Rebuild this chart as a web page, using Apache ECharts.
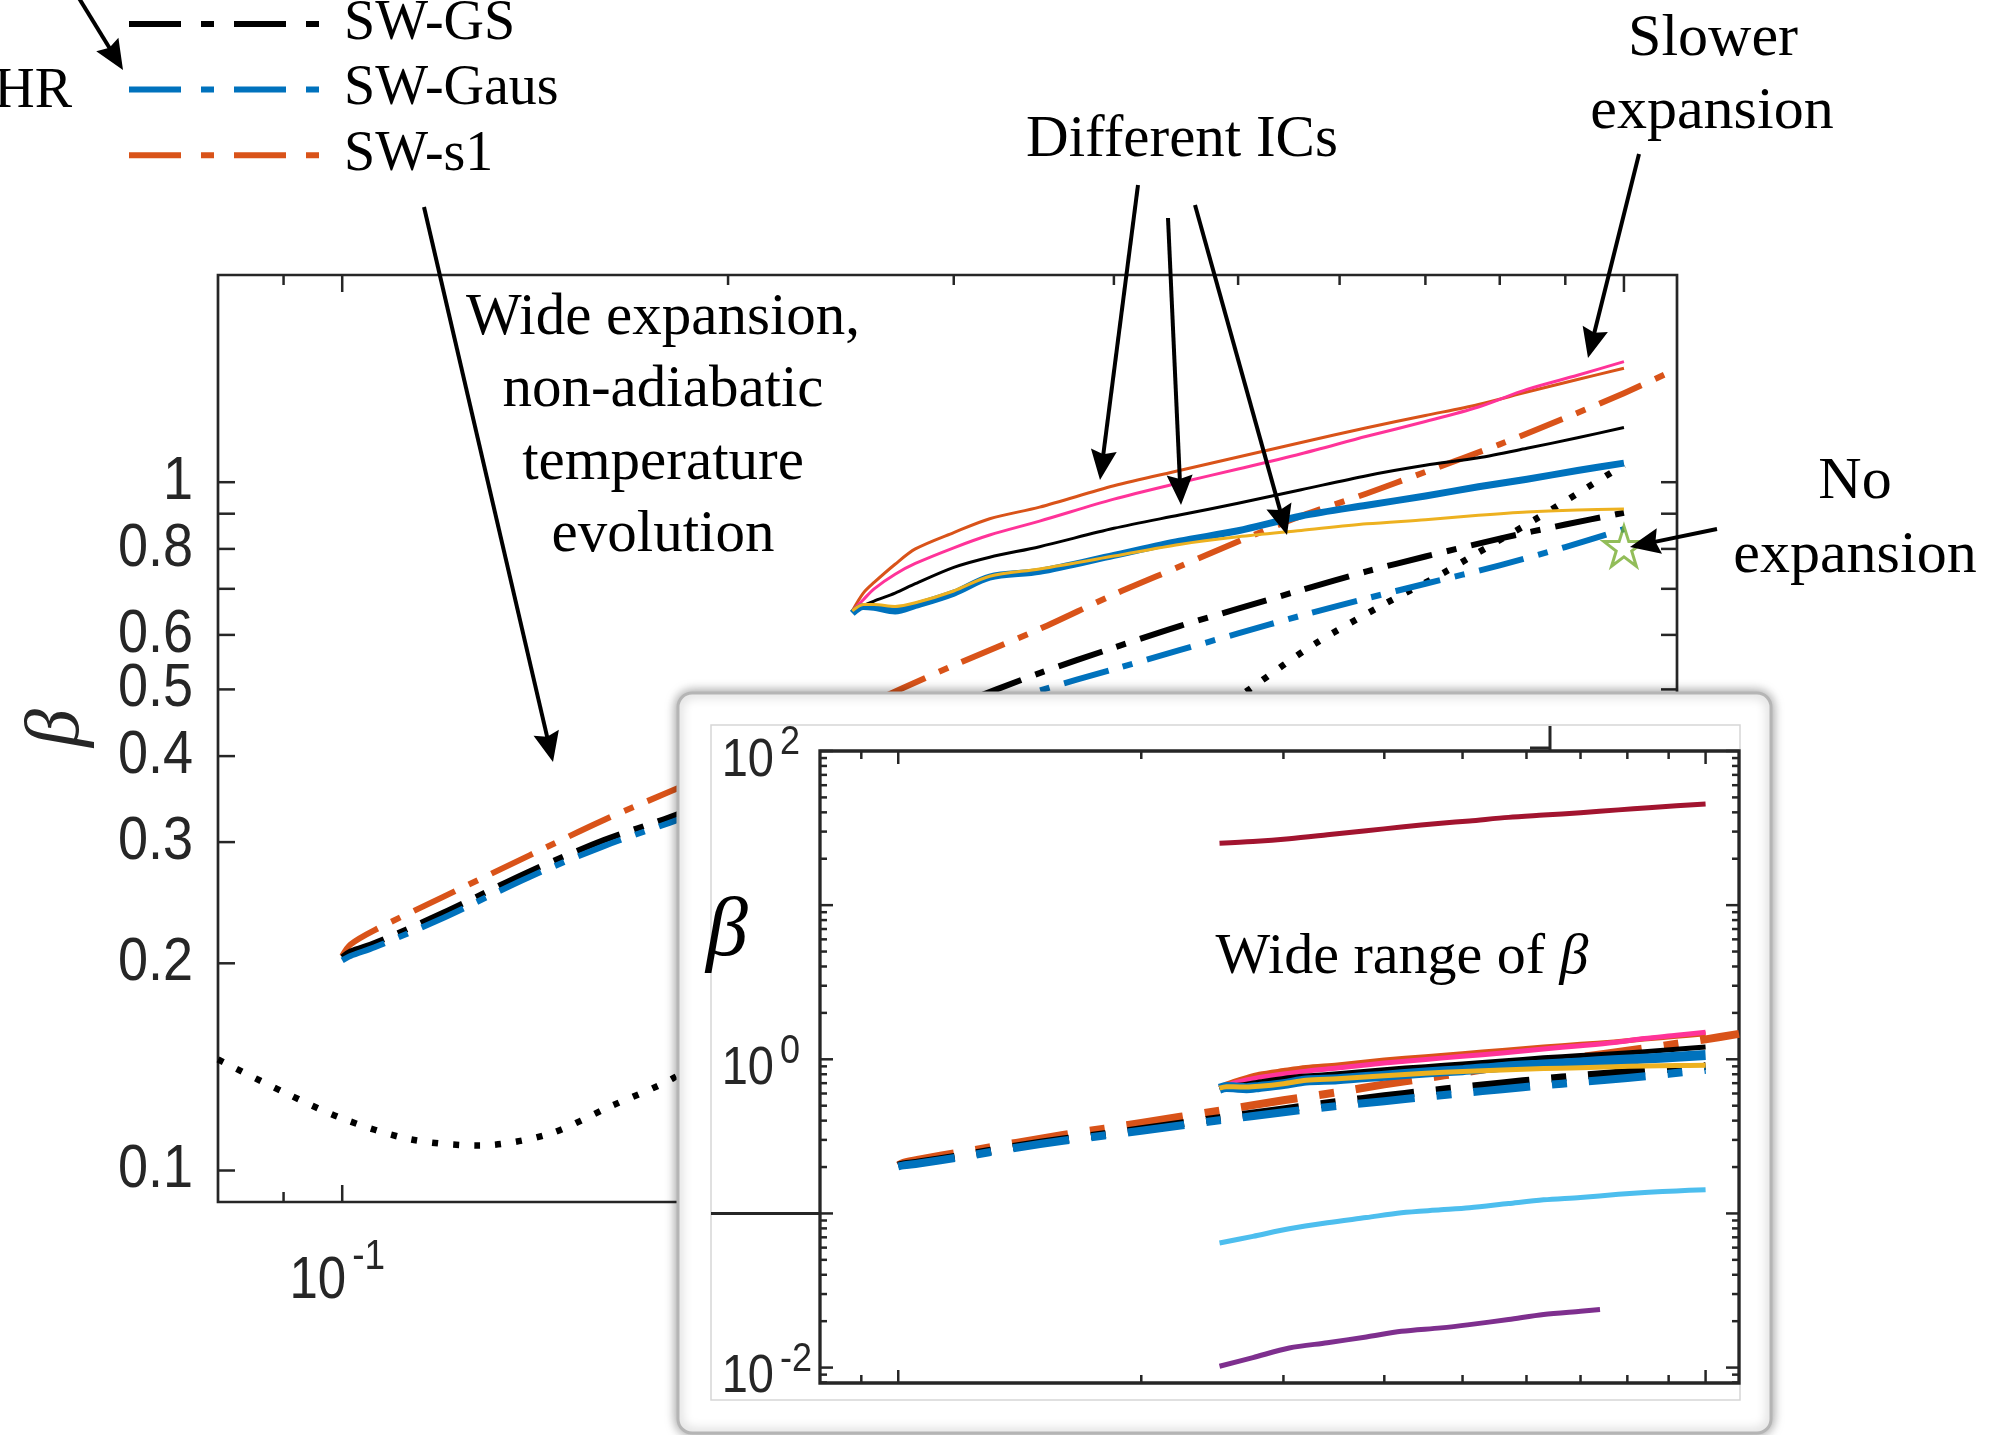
<!DOCTYPE html>
<html>
<head>
<meta charset="utf-8">
<script src="https://cdn.jsdelivr.net/npm/echarts@6/dist/echarts.min.js"></script>
<style>
  html, body { margin: 0; padding: 0; background: #fff; }
  #chart { width: 1995px; height: 1435px; }
</style>
</head>
<body>
<div id="chart"></div>
<script>
// ---------------- data ----------------
// Self-similar wave solutions, beta versus time (log-log)
const xSW    = [0.1, 0.1015, 0.106, 0.12, 0.14, 0.16, 0.18, 0.2, 0.25, 0.3, 0.35, 0.4, 0.45, 0.5, 0.56, 0.63, 0.7, 0.8, 0.9, 1.0, 1.1];
const swS1   = [0.205, 0.213, 0.2235, 0.250, 0.287, 0.323, 0.355, 0.386, 0.465, 0.542, 0.612, 0.687, 0.754, 0.820, 0.893, 0.963, 1.035, 1.135, 1.240, 1.347, 1.461];
const swGS   = [0.204, 0.208, 0.214, 0.237, 0.272, 0.302, 0.326, 0.352, 0.415, 0.473, 0.528, 0.575, 0.618, 0.655, 0.697, 0.742, 0.780, 0.828, 0.868, 0.903, null];
const swGaus = [0.202, 0.205, 0.211, 0.233, 0.267, 0.296, 0.320, 0.344, 0.402, 0.453, 0.498, 0.535, 0.570, 0.603, 0.640, 0.678, 0.712, 0.757, 0.805, 0.855, null];

// HR curve (dotted)
const xHR    = [0.08, 0.09, 0.1, 0.113, 0.128, 0.145, 0.162, 0.181, 0.2, 0.25, 0.3, 0.35, 0.4, 0.45, 0.514, 0.572, 0.65, 0.72, 0.764, 0.85, 0.93, 1.0];
const betaHR = [0.145, 0.130, 0.119, 0.111, 0.1087, 0.113, 0.124, 0.136, 0.154, 0.204, 0.256, 0.31, 0.366, 0.423, 0.505, 0.58, 0.665, 0.735, 0.784, 0.88, 0.975, 1.06];

// Simulations from different initial conditions (solid)
const xIC      = [0.25, 0.255, 0.26, 0.27, 0.28, 0.30, 0.32, 0.35, 0.40, 0.45, 0.50, 0.56, 0.63, 0.70, 0.77, 0.84, 0.92, 1.00];
const icOrange = [0.650, 0.690, 0.715, 0.760, 0.800, 0.845, 0.885, 0.920, 0.988, 1.040, 1.088, 1.142, 1.200, 1.250, 1.297, 1.352, 1.410, 1.464];
const icPink   = [0.650, 0.675, 0.700, 0.735, 0.762, 0.803, 0.838, 0.878, 0.945, 0.998, 1.045, 1.100, 1.166, 1.225, 1.286, 1.364, 1.430, 1.497];
const icBlack  = [0.650, 0.662, 0.672, 0.690, 0.712, 0.752, 0.778, 0.806, 0.857, 0.896, 0.932, 0.975, 1.022, 1.058, 1.085, 1.120, 1.160, 1.201];
const icBlue   = [0.645, 0.660, 0.658, 0.650, 0.662, 0.690, 0.728, 0.742, 0.783, 0.821, 0.850, 0.893, 0.926, 0.955, 0.985, 1.010, 1.040, 1.066];
const icYellow = [0.650, 0.664, 0.664, 0.660, 0.668, 0.695, 0.730, 0.748, 0.781, 0.812, 0.833, 0.851, 0.870, 0.882, 0.895, 0.905, 0.911, 0.914];

// No-expansion case
const noExpansion = [[1.0, 0.807]];

// Extra runs shown only in the wide-range panel
const xWide      = [0.25, 0.275, 0.305, 0.34, 0.38, 0.42, 0.47, 0.51, 0.57, 0.63, 0.7, 0.78, 0.85, 0.92, 1.0];
const betaHigh   = [25.2, 25.9, 27.0, 28.6, 30.4, 32.1, 34.0, 35.2, 37.1, 38.4, 39.8, 41.5, 42.9, 44.1, 45.3];
const betaLow    = [0.0643, 0.071, 0.0795, 0.087, 0.094, 0.101, 0.1055, 0.109, 0.116, 0.1225, 0.127, 0.133, 0.137, 0.140, 0.1426];
const xLowest    = [0.25, 0.275, 0.305, 0.34, 0.38, 0.42, 0.47, 0.51, 0.57, 0.63, 0.7, 0.74];
const betaLowest = [0.0102, 0.0116, 0.0134, 0.0145, 0.0158, 0.0172, 0.0181, 0.019, 0.0205, 0.0221, 0.0232, 0.0238];

// Ticks and tick labels
const mainXTicks      = [0.09, 0.1, 0.2, 0.3, 0.4, 0.5, 0.6, 0.7, 0.8, 0.9, 1.0];
const mainXMajor      = [0.1, 1.0];
const mainXLabelVals  = [0.1, 1.0];
const mainXLabelExp   = ['-1', '0'];
const mainYTicks      = [0.1, 0.2, 0.3, 0.4, 0.5, 0.6, 0.7, 0.8, 0.9, 1.0];
const mainYLabelVals  = [0.1, 0.2, 0.3, 0.4, 0.5, 0.6, 0.8, 1];
const mainYLabels     = ['0.1', '0.2', '0.3', '0.4', '0.5', '0.6', '0.8', '1'];
const insetYLabelVals = [100, 1, 0.01];
const insetYLabelExp  = ['2', '0', '-2'];

// ---------------- styling ----------------
const SERIF = "'Liberation Serif', 'DejaVu Serif', serif";
const SANS = "'Liberation Sans', Arial, Helvetica, sans-serif";
const AX = '#262626';
const C = {
  blue: '#0072BD', orange: '#D95319', yellow: '#EDB120', purple: '#7E2F8E',
  green: '#77AC30', cyan: '#4DBEEE', red: '#A2142F', pink: '#FF3399', black: '#000000'
};
const DASHDOT_MAIN = [46, 15, 10, 15];
const DASHDOT_INSET = [57, 22, 15, 22];
const STAR = 'path://M50,0 L61.8,35.1 L98.9,35.1 L68.9,56.8 L80.3,91.9 L50,70.2 L19.7,91.9 L31.1,56.8 L1.1,35.1 L38.2,35.1 Z';

function pairs(xs, ys) {
  const out = [];
  for (let i = 0; i < xs.length; i++) if (ys[i] != null) out.push([xs[i], ys[i]]);
  return out;
}

function lineSeries(name, data, color, width, type, panel) {
  return {
    name: name, type: 'line', data: data,
    xAxisIndex: panel, yAxisIndex: panel,
    zlevel: panel === 0 ? 0 : 2,
    symbol: 'none', smooth: 0.3, animation: false, silent: true,
    lineStyle: { color: color, width: width, type: type, cap: 'butt', join: 'round' },
    itemStyle: { color: color }
  };
}

function panelSeries(panel) {
  const dd = panel === 0 ? DASHDOT_MAIN : DASHDOT_INSET;
  const wd = panel === 0 ? 6 : 8;
  const wt = panel === 0 ? 3 : 5;
  const wb = panel === 0 ? 7 : 10;
  const s = [];
  if (panel === 0) s.push(lineSeries('HR', pairs(xHR, betaHR), C.black, 6.5, [6, 15], 0));
  s.push(lineSeries('SW-s1', pairs(xSW, swS1), C.orange, wd, dd, panel));
  s.push(lineSeries('SW-GS', pairs(xSW, swGS), C.black, wd, dd, panel));
  s.push(lineSeries('SW-Gaus', pairs(xSW, swGaus), C.blue, wd, dd, panel));
  if (panel === 1) {
    s.push(lineSeries('IC high', pairs(xWide, betaHigh), C.red, wt, 'solid', 1));
    s.push(lineSeries('IC low', pairs(xWide, betaLow), C.cyan, wt, 'solid', 1));
    s.push(lineSeries('IC lowest', pairs(xLowest, betaLowest), C.purple, wt, 'solid', 1));
  }
  s.push(lineSeries('IC 1', pairs(xIC, icOrange), C.orange, wt, 'solid', panel));
  s.push(lineSeries('IC 2', pairs(xIC, icPink), C.pink, wt, 'solid', panel));
  s.push(lineSeries('IC 3', pairs(xIC, icBlack), C.black, wt, 'solid', panel));
  s.push(lineSeries('IC 4', pairs(xIC, icBlue), C.blue, wb, 'solid', panel));
  s.push(lineSeries('IC 5', pairs(xIC, icYellow), C.yellow, wt, 'solid', panel));
  return s;
}

const hiddenAxis = {
  axisLine: { show: false }, axisTick: { show: false },
  axisLabel: { show: false }, splitLine: { show: false }, minorTick: { show: false }
};

const series = panelSeries(0).concat([{
  name: 'No expansion', type: 'scatter', data: noExpansion,
  xAxisIndex: 0, yAxisIndex: 0, zlevel: 0, z: 4, silent: true, animation: false,
  symbol: STAR, symbolSize: [40, 40],
  itemStyle: { color: 'rgba(255,255,255,0)', borderColor: C.green, borderWidth: 3 }
}]).concat(panelSeries(1));

const option = {
  backgroundColor: '#ffffff',
  animation: false,
  grid: [
    { left: 218, top: 275, width: 1459, height: 927, show: true, borderColor: AX, borderWidth: 2.7,
      backgroundColor: '#ffffff', zlevel: 0 },
    { left: 820, top: 751, width: 919, height: 632, show: true, borderColor: AX, borderWidth: 3.3,
      backgroundColor: 'rgba(0,0,0,0)', zlevel: 2, z: 1 }
  ],
  xAxis: [
    Object.assign({ type: 'log', logBase: 10, gridIndex: 0, min: 0.08, max: 1.1, zlevel: 0 }, hiddenAxis),
    Object.assign({ type: 'log', logBase: 10, gridIndex: 1, min: 0.08, max: 1.1, zlevel: 2 }, hiddenAxis)
  ],
  yAxis: [
    Object.assign({ type: 'log', logBase: 10, gridIndex: 0, min: 0.09, max: 2, zlevel: 0 }, hiddenAxis),
    Object.assign({ type: 'log', logBase: 10, gridIndex: 1, min: Math.pow(10, -2.1), max: 100, zlevel: 2 }, hiddenAxis)
  ],
  legend: {
    data: ['SW-GS', 'SW-Gaus', 'SW-s1'],
    orient: 'vertical', left: 126, top: -4, padding: 0,
    itemWidth: 193, itemHeight: 20, itemGap: 9.6,
    selectedMode: false, zlevel: 0, z: 30,
    itemStyle: { opacity: 0 },
    lineStyle: { width: 6, type: [52, 20, 13, 20], cap: 'butt' },
    textStyle: { fontFamily: SERIF, fontSize: 56, color: '#000', lineHeight: 20, padding: [0, 0, 10, 17] }
  },
  series: series
};

const chart = echarts.init(document.getElementById('chart'), null, { width: 1995, height: 1435, renderer: 'canvas' });
chart.setOption(option);

// ---------------- overlay: ticks, labels, annotations ----------------
const px = (axis, i, v) => chart.convertToPixel(axis === 'x' ? { xAxisIndex: i } : { yAxisIndex: i }, v);
const G = [];

function seg(x1, y1, x2, y2, w, color, zl, z) {
  return { type: 'line', silent: true, zlevel: zl, z: z, shape: { x1: x1, y1: y1, x2: x2, y2: y2 },
           style: { stroke: color, lineWidth: w, lineCap: 'butt' } };
}
function txt(text, x, y, o) {
  o = o || {};
  return {
    type: 'text', silent: true, zlevel: o.zlevel || 0, z: o.z || 40, x: x, y: y,
    rotation: o.rotation || 0, scaleY: o.scaleY || 1,
    style: {
      text: text, x: 0, y: 0, fill: o.fill || '#000',
      fontSize: o.fontSize || 58, fontFamily: o.fontFamily || SERIF, fontStyle: o.fontStyle || 'normal',
      align: o.align || 'center', verticalAlign: o.verticalAlign || 'middle',
      textAlign: o.align || 'center', textVerticalAlign: o.verticalAlign || 'middle',
      lineHeight: o.lineHeight, rich: o.rich
    }
  };
}
function arrow(x1, y1, x2, y2, zl) {
  const dx = x2 - x1, dy = y2 - y1, L = Math.hypot(dx, dy), ux = dx / L, uy = dy / L;
  const hl = 30, hw = 13, back = 4;
  const bx = x2 - ux * hl, by = y2 - uy * hl;
  G.push({ type: 'line', silent: true, zlevel: zl, z: 50,
           shape: { x1: x1, y1: y1, x2: bx + ux * (back + 2), y2: by + uy * (back + 2) },
           style: { stroke: '#000', lineWidth: 4 } });
  G.push({ type: 'polygon', silent: true, zlevel: zl, z: 51,
           shape: { points: [[x2, y2], [bx - uy * hw, by + ux * hw], [bx + ux * back, by + uy * back], [bx + uy * hw, by - ux * hw]] },
           style: { fill: '#000' } });
}
// "10" with a raised exponent, "10" right edge at xr
function powerLabel(exp, xr, yBase, yExp, baseSize, expSize, zl) {
  G.push(txt('10', xr, yBase, { zlevel: zl, fontFamily: SANS, fontSize: baseSize, fill: AX, align: 'right', scaleY: 1.15 }));
  G.push(txt(exp, xr + 6, yExp, { zlevel: zl, fontFamily: SANS, fontSize: expSize, fill: AX, align: 'left', scaleY: 1.15 }));
}

// main panel frame geometry
const L0 = px('x', 0, 0.08), R0 = px('x', 0, 1.1), T0 = px('y', 0, 2), B0 = px('y', 0, 0.09);
mainYTicks.forEach(v => {
  const y = px('y', 0, v);
  G.push(seg(L0, y, L0 + 17, y, 2.5, AX, 0, 5));
  G.push(seg(R0, y, R0 - 16, y, 2.5, AX, 0, 5));
});
mainXTicks.forEach(v => {
  const x = px('x', 0, v);
  const len = mainXMajor.indexOf(v) >= 0 ? 17 : 10;
  G.push(seg(x, T0, x, T0 + len, 2.5, AX, 0, 5));
  G.push(seg(x, B0, x, B0 - len, 2.5, AX, 0, 5));
});
mainYLabelVals.forEach((v, i) => {
  G.push(txt(mainYLabels[i], L0 - 25, px('y', 0, v), { fontFamily: SANS, fontSize: 54, fill: AX, align: 'right', scaleY: 1.12 }));
});
mainXLabelVals.forEach((v, i) => {
  powerLabel(mainXLabelExp[i], px('x', 0, v) + 4, B0 + 80, B0 + 55, 51, 37, 0);
});
// y-axis title
G.push(txt('β', 58, 728, { fontSize: 76, fontStyle: 'italic', rotation: Math.PI / 2, fill: AX }));

// legend extras
G.push(txt('HR', 72, 92, { fontSize: 56, align: 'right' }));
arrow(66, -23, 123, 70, 0);

// annotations
G.push(txt('Wide expansion,\nnon-adiabatic\ntemperature\nevolution', 663, 427, { fontSize: 59, lineHeight: 72.5 }));
arrow(424, 207, 553, 762, 0);
G.push(txt('Different ICs', 1182, 140, { fontSize: 59 }));
arrow(1138, 185, 1100, 480, 0);
arrow(1168, 218, 1181, 505, 0);
arrow(1195, 205, 1287, 535, 0);
G.push(txt('Slower', 1713, 39, { fontSize: 60 }));
G.push(txt('expansion', 1712, 112, { fontSize: 60 }));
arrow(1639, 154, 1588, 358, 0);
G.push(txt('No', 1855, 482, { fontSize: 60 }));
G.push(txt('expansion', 1855, 556, { fontSize: 60 }));
arrow(1717, 529, 1630, 547, 0);

// inset card
G.push({ type: 'rect', silent: true, zlevel: 1, z: 0,
         shape: { x: 678, y: 693, width: 1093, height: 740, r: 14 },
         style: { fill: '#ffffff', stroke: '#b5b5b5', lineWidth: 3, shadowBlur: 12, shadowColor: 'rgba(0,0,0,0.4)' } });
G.push({ type: 'rect', silent: true, zlevel: 1, z: 1,
         shape: { x: 711, y: 725, width: 1029, height: 675 },
         style: { fill: 'none', stroke: '#d6d6d6', lineWidth: 1.5 } });

const L1 = px('x', 1, 0.08), R1 = px('x', 1, 1.1), T1 = px('y', 1, 100), B1 = px('y', 1, Math.pow(10, -2.1));
// stray axis pieces of the embedded panel
G.push(seg(711, px('y', 1, 0.1), L1, px('y', 1, 0.1), 3, AX, 1, 2));
G.push(seg(1550, 726, 1550, T1 - 1, 3, AX, 1, 2));
G.push(seg(1530, T1 - 3, 1550, T1 - 3, 3, AX, 1, 2));

// inset ticks
for (let e = -3; e <= 2; e++) {
  for (let m = 1; m <= 9; m++) {
    const v = m * Math.pow(10, e);
    if (v < Math.pow(10, -2.1) || v > 100.0001) continue;
    const y = px('y', 1, v);
    const len = m === 1 ? 13 : 7;
    G.push(seg(L1, y, L1 + len, y, 2.5, AX, 2, 5));
    G.push(seg(R1, y, R1 - len, y, 2.5, AX, 2, 5));
  }
}
mainXTicks.forEach(v => {
  const x = px('x', 1, v);
  const len = mainXMajor.indexOf(v) >= 0 ? 13 : 8;
  G.push(seg(x, T1, x, T1 + len, 2.5, AX, 2, 5));
  G.push(seg(x, B1, x, B1 - len, 2.5, AX, 2, 5));
});
insetYLabelVals.forEach((v, i) => {
  const y = px('y', 1, v);
  powerLabel(insetYLabelExp[i], L1 - 46, y + 10, y - 8, 47, 36, 2);
});
G.push(txt('β', 727, 933, { zlevel: 2, fontSize: 84, fontStyle: 'italic' }));
G.push(txt('{a|Wide range of }{g|β}', 1402, 958, {
  zlevel: 2,
  rich: { a: { fontSize: 58, fontFamily: SERIF, fill: '#000' },
          g: { fontSize: 58, fontFamily: SERIF, fontStyle: 'italic', fill: '#000' } }
}));

chart.setOption({ graphic: { elements: G } });
</script>
</body>
</html>
